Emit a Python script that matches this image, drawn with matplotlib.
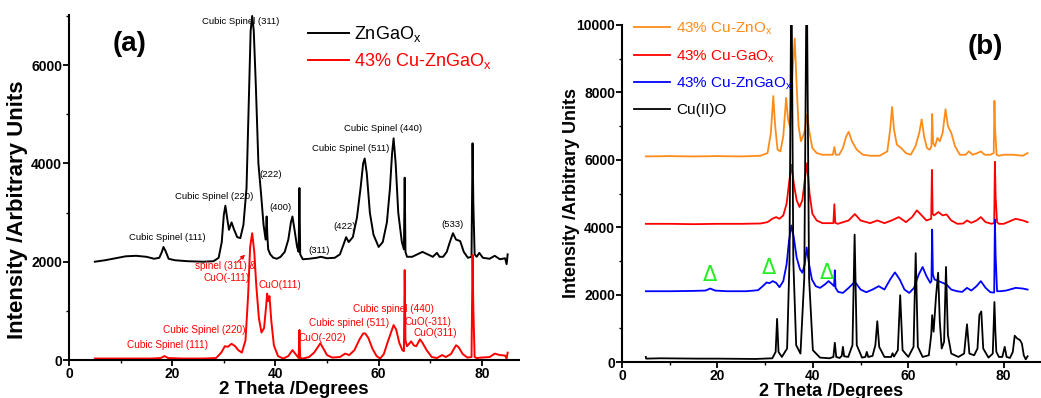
"""
XRD patterns: (a) ZnGaOx vs 43% Cu-ZnGaOx, (b) Cu loaded oxides vs CuO
"""

import matplotlib
matplotlib.use('Agg')
import matplotlib.pyplot as plt
from matplotlib.ticker import MultipleLocator

plt.rcParams['font.family'] = ['Liberation Sans', 'DejaVu Sans']

# ---- panel (a) data ----
znga_x = [5, 7, 9, 11, 13, 15, 16.5, 17.5, 18.0, 18.3, 18.7, 19.3, 20.5, 23, 26, 28, 29.0, 29.6,
          30.0, 30.3, 30.7, 31.0, 31.5, 32.0, 32.6, 33.2, 33.8, 34.4, 34.9, 35.2, 35.5, 35.8, 36.2,
          36.7, 37.2, 37.7, 38.1, 38.3, 38.45, 38.6, 39.0, 39.6, 40.3, 41.0, 41.8, 42.5, 43.0, 43.3,
          43.7, 44.2, 44.5, 44.65, 44.8, 45.3, 46.5, 48.0, 48.8, 50, 51.5, 52.5, 53.2, 53.7, 54.2,
          55.0, 55.8, 56.5, 57.0, 57.3, 57.7, 58.3, 59.0, 60.0, 60.8, 61.6, 62.2, 62.6, 62.9, 63.3,
          63.8, 64.5, 64.9, 65.05, 65.2, 65.5, 66.5, 67.5, 68.5, 69.5, 70.5, 71.3, 71.8, 72.5, 73.2,
          73.8, 74.4, 75.0, 75.8, 76.5, 77.3, 78.0, 78.2, 78.35, 78.6, 79.0, 79.5, 80.2, 81.5, 82.5,
          83.5, 84.5, 84.8, 85.0]
znga_y = [2000, 2030, 2070, 2110, 2120, 2100, 2060, 2080, 2200, 2300, 2220, 2060, 2030, 2010, 2000,
          2010, 2080, 2400, 2950, 3140, 2850, 2650, 2800, 2650, 2500, 2480, 2750, 3500, 5500, 6700,
          7000, 6700, 5600, 4000, 3400, 2750, 2450, 2920, 2500, 2250, 2150, 2080, 2060, 2100, 2200,
          2450, 2800, 2920, 2650, 2300, 2200, 3500, 2150, 2050, 2060, 2080, 2100, 2070, 2080, 2150,
          2350, 2500, 2400, 2500, 2900, 3500, 4000, 4100, 3800, 3000, 2550, 2300, 2400, 2800, 3500,
          4200, 4510, 4000, 3000, 2400, 2250, 3710, 2200, 2100, 2100, 2150, 2200, 2150, 2100, 2180,
          2100, 2100, 2200, 2400, 2580, 2450, 2420, 2200, 2080, 2100, 4410, 3200, 2150, 2100, 2180,
          2080, 2060, 2120, 2050, 2070, 1950, 2150]

cuznga_x = [5, 8, 12, 16, 17.8, 18.5, 19.2, 22, 26, 28.5, 29.5, 30.2, 30.8, 31.5, 32.2, 32.8, 33.5,
            34.2, 34.7, 35.1, 35.5, 35.9, 36.3, 36.8, 37.3, 37.8, 38.2, 38.4, 38.6, 38.85, 39.2, 39.7,
            40.5, 41.5, 42.5, 43.3, 43.9, 44.5, 44.65, 44.8, 45.3, 46.5, 47.5, 48.2, 48.7, 49.2, 50.0,
            51.0, 52.5, 53.5, 54.3, 55.3, 56.3, 57.0, 57.4, 58.0, 58.8, 59.6, 60.3, 61.0, 61.8, 62.4,
            62.9, 63.4, 64.0, 64.6, 64.9, 65.05, 65.2, 65.5, 66.0, 66.3, 66.8, 67.3, 68.0, 68.5, 69.3,
            70.3, 71.3, 72.3, 73.0, 74.0, 75.0, 75.5, 76.3, 77.2, 78.0, 78.2, 78.35, 78.6, 79.0, 80,
            81.5, 82.5, 83.5, 84.5, 84.8, 85]
cuznga_y = [30, 30, 30, 30, 40, 80, 40, 30, 30, 40, 150, 280, 270, 330, 280, 200, 150, 400, 1300,
            2300, 2580, 2200, 1500, 850, 560, 650, 1100, 1350, 1200, 1300, 800, 300, 80, 30, 80, 200,
            120, 40, 610, 40, 30, 60, 150, 260, 340, 250, 100, 50, 60, 130, 100, 200, 420, 540, 540,
            450, 230, 80, 30, 120, 380, 560, 710, 620, 350, 200, 180, 1830, 400, 280, 340, 380, 300,
            280, 420, 350, 200, 60, 40, 100, 60, 120, 300, 260, 120, 50, 60, 2140, 1050, 60, 40, 50,
            60, 130, 100, 90, 30, 150]

# ---- panel (b) data ----
cuzn_x = [5, 10, 15, 20, 25, 29, 30.5, 31.2, 31.7, 32.1, 32.6, 33.2, 33.8, 34.4, 34.8, 35.2, 35.7,
          36.2, 36.6, 37.0, 37.5, 38.2, 38.8, 39.3, 39.9, 40.8, 42, 44.2, 44.5, 44.8, 45.5, 46.3,
          47.0, 47.5, 48.2, 49.2, 50.5, 52, 54, 55.6, 56.2, 56.6, 57.0, 57.6, 58.5, 59.5, 60.5, 61.5,
          62.3, 62.8, 63.3, 63.9, 64.5, 64.85, 65.0, 65.2, 65.6, 66.1, 66.6, 67.2, 67.8, 68.3, 69.0,
          69.8, 70.8, 72, 72.7, 73.5, 74.5, 75.2, 76.0, 77.2, 77.9, 78.05, 78.2, 78.5, 79, 80, 82,
          84, 85]
cuzn_y = [6100, 6110, 6100, 6110, 6100, 6120, 6200, 6800, 7890, 7000, 6300, 6250, 6700, 7840, 7200,
          6980, 8500, 9600, 8200, 7000, 6550, 6800, 7350, 6800, 6350, 6200, 6150, 6150, 6380, 6150,
          6150, 6350, 6700, 6830, 6550, 6300, 6150, 6120, 6120, 6250, 6900, 7570, 6900, 6450, 6350,
          6200, 6150, 6400, 6800, 7200, 6700, 6350, 6300, 6400, 7360, 6500, 6400, 6650, 6550, 6800,
          7500, 7000, 6800, 6400, 6150, 6150, 6250, 6150, 6200, 6250, 6150, 6150, 6200, 7750, 6900,
          6150, 6120, 6150, 6150, 6120, 6200]

cuga_x = [5, 10, 15, 20, 25, 29, 30.5, 31.5, 32.3, 33.0, 33.8, 34.5, 35.0, 35.5, 36.0, 36.6, 37.2,
          37.8, 38.3, 38.8, 39.3, 39.9, 40.8, 42, 44.3, 44.5, 44.7, 45.2, 47.5, 48.8, 50, 52, 53.5,
          55, 56.5, 58.0, 59.5, 60.8, 61.8, 62.8, 63.8, 64.8, 64.95, 65.1, 65.4, 66.3, 67.2, 68.0,
          69.0, 70.3, 71.5, 72.3, 73.2, 74.3, 75.2, 76.2, 77.5, 78.0, 78.15, 78.3, 78.6, 79, 80,
          82.5, 84, 85]
cuga_y = [4100, 4100, 4090, 4100, 4100, 4110, 4150, 4250, 4300, 4250, 4350, 4700, 5300, 5850, 5300,
          4800, 4600, 4800, 5400, 5900, 5000, 4400, 4200, 4120, 4120, 4680, 4130, 4100, 4200, 4390,
          4200, 4120, 4200, 4120, 4200, 4300, 4150, 4300, 4500, 4350, 4200, 4250, 5700, 4400, 4350,
          4450, 4350, 4380, 4200, 4100, 4110, 4200, 4130, 4200, 4300, 4150, 4100, 4130, 5940, 4900,
          4150, 4100, 4100, 4250, 4200, 4150]

cuzg_x = [5, 10, 15, 17.5, 18.5, 19.5, 22, 26, 28.5, 29.5, 30.3, 30.9, 31.6, 32.3, 33.0, 33.8, 34.5,
          35.0, 35.5, 36.0, 36.6, 37.3, 37.8, 38.3, 38.7, 39.2, 39.8, 40.6, 41.5, 42.5, 43.3, 44.1,
          44.45, 44.6, 44.75, 45.3, 46.3, 47.5, 48.8, 50.0, 51.2, 52.5, 53.8, 55.0, 56.2, 57.2, 58.2,
          59.2, 60.2, 61.2, 62.2, 63.0, 63.8, 64.6, 64.85, 65.0, 65.15, 65.5, 66.3, 67.2, 68.0, 69.0,
          70.2, 71.3, 72.3, 73.2, 74.3, 75.2, 76.2, 77.2, 78.0, 78.15, 78.3, 78.6, 79.2, 80.5, 82.5,
          84, 85]
cuzg_y = [2100, 2100, 2110, 2120, 2180, 2120, 2100, 2100, 2130, 2250, 2360, 2340, 2400, 2350, 2220,
          2400, 2900, 3600, 4050, 3700, 3100, 2750, 2650, 2900, 3400, 2900, 2450, 2250, 2200, 2300,
          2400, 2300, 2250, 2720, 2200, 2080, 2050, 2200, 2380, 2150, 2070, 2150, 2250, 2150, 2450,
          2660, 2450, 2150, 2050, 2200, 2600, 2820, 2550, 2350, 2400, 3930, 2600, 2450, 2400, 2350,
          2300, 2150, 2100, 2080, 2200, 2120, 2250, 2400, 2200, 2070, 2060, 4230, 3150, 2100, 2100,
          2120, 2200, 2180, 2150]

cuo_x = [5, 5.05, 8, 12, 16, 20, 24, 28, 31.5, 32.2, 32.5, 32.8, 33.5, 34.6, 35.1, 35.5, 35.9, 36.5,
         37.4, 38.2, 38.7, 39.2, 40.0, 41.5, 43.5, 44.3, 44.6, 44.9, 45.6, 46.05, 46.3, 46.55, 47.4,
         48.3, 48.75, 49.2, 50.3, 51.0, 51.3, 51.6, 52.5, 53.1, 53.5, 53.9, 55.0, 56.4, 56.7, 57.0,
         57.8, 58.3, 58.8, 60.0, 61.1, 61.55, 62.0, 63.0, 64.3, 64.8, 65.0, 65.3, 65.8, 66.25, 66.6,
         67.0, 67.5, 67.9, 68.3, 69.0, 70.5, 71.7, 72.3, 72.8, 73.8, 74.5, 74.9, 75.3, 75.7, 76.8,
         77.7, 78.05, 78.25, 78.45, 79.0, 79.7, 80.2, 80.6, 81.3, 81.9, 82.3, 82.8, 83.4, 83.8, 84.2,
         84.6, 85.0]
cuo_y = [150, 100, 110, 105, 100, 100, 95, 90, 110, 300, 1280, 300, 150, 400, 3000, 12000, 3000, 500,
         250, 2500, 12000, 2500, 350, 130, 110, 150, 570, 150, 120, 180, 450, 170, 150, 500, 3780, 500,
         130, 150, 300, 150, 180, 500, 1210, 450, 150, 150, 260, 160, 350, 1980, 350, 150, 450, 3230,
         450, 150, 200, 800, 1390, 900, 1930, 2650, 1200, 400, 600, 2820, 800, 250, 150, 250, 1120,
         250, 200, 400, 1400, 1500, 400, 130, 250, 1780, 900, 300, 150, 150, 450, 150, 120, 300, 780,
         700, 650, 550, 200, 80, 170]

# peak labels, panel (a)
labels_a_black = ['Cubic Spinel (311)', '(222)', 'Cubic Spinel (220)', '(400)', 'Cubic Spinel (111)',
                  '(311)', '(422)', 'Cubic Spinel (511)', 'Cubic Spinel (440)', '(533)']
labels_a_black_x = [33.3, 39.0, 28.1, 40.9, 19.0, 48.4, 53.5, 54.5, 60.9, 74.4]
labels_a_black_y = [6878, 3765, 3317, 3093, 2483, 2238, 2707, 4294, 4701, 2747]

labels_a_red = ['spinel (311) &', 'CuO(-111)', 'CuO(111)', 'Cubic Spinel (220)', 'Cubic Spinel (111)',
                'CuO(-202)', 'Cubic spinel (511)', 'Cubic spinel (440)', 'CuO(-311)', 'CuO(311)']
labels_a_red_x = [30.4, 30.6, 40.9, 26.2, 19.0, 49.0, 54.3, 62.8, 69.6, 70.9]
labels_a_red_y = [1913, 1669, 1526, 611, 305, 448, 753, 1038, 773, 549]

# Δ markers, panel (b)
delta_x = [18.5, 30.7, 43.0]
delta_y = [2575, 2783, 2634]

W, H = 1041, 398
fig = plt.figure(figsize=(W / 100, H / 100), dpi=100)

ax1 = fig.add_axes([69 / W, (H - 360) / H, 450 / W, 345 / H])
ax2 = fig.add_axes([622 / W, (H - 362) / H, 418 / W, 337 / H])


def styleAxes(ax, xmax, ymax, ylabsize, xlabsize, ylabpos):
    ax.set_xlim(0, xmax)
    ax.set_ylim(0, ymax)
    for s in ['top', 'right']:
        ax.spines[s].set_visible(False)
    for s in ['left', 'bottom']:
        ax.spines[s].set_linewidth(1.5)
    ax.xaxis.set_major_locator(MultipleLocator(20))
    ax.xaxis.set_minor_locator(MultipleLocator(10))
    ax.yaxis.set_major_locator(MultipleLocator(2000))
    ax.yaxis.set_minor_locator(MultipleLocator(1000))
    ax.tick_params(which='major', direction='out', length=4, width=1.3, labelsize=10, pad=1)
    ax.tick_params(which='minor', direction='out', length=2.5, width=1.0)
    for t in ax.get_xticklabels() + ax.get_yticklabels():
        t.set_fontweight('bold')
    ax.set_xlabel('2 Theta /Degrees', fontsize=xlabsize, fontweight='bold', labelpad=0)
    ax.set_ylabel('Intensity /Arbitrary Units', fontsize=ylabsize, fontweight='bold')
    ax.yaxis.set_label_coords(*ylabpos)


# panel (a)
ax1.plot(znga_x, znga_y, color='black', lw=1.4, label=r'ZnGaO$\mathregular{_x}$')
ax1.plot(cuznga_x, cuznga_y, color='red', lw=1.4, label=r'43% Cu-ZnGaO$\mathregular{_x}$')
styleAxes(ax1, 87.2, 7020, 16, 13.5, (-0.09, 0.435))
ax1.legend(loc='upper left', bbox_to_anchor=(0.51, 1.0), frameon=False, fontsize=13,
           handlelength=2.3, handletextpad=0.3, labelspacing=0.4, borderpad=0,
           labelcolor='linecolor')
ax1.text(0.135, 0.915, '(a)', transform=ax1.transAxes, fontsize=20, fontweight='bold',
         ha='center', va='center')
for s, x, y in zip(labels_a_black, labels_a_black_x, labels_a_black_y):
    ax1.text(x, y, s, fontsize=6.8, color='black', ha='center', va='center')
for s, x, y in zip(labels_a_red, labels_a_red_x, labels_a_red_y):
    ax1.text(x, y, s, fontsize=7.2, color='red', ha='center', va='center')
ax1.annotate('', xy=(34.5, 2180), xytext=(32.2, 1950),
             arrowprops=dict(arrowstyle='-|>', color='red', lw=0.8, mutation_scale=6))

# panel (b)
ax2.plot(cuzn_x, cuzn_y, color='#ff8c1a', lw=1.3, label=r'43% Cu-ZnO$\mathregular{_x}$')
ax2.plot(cuga_x, cuga_y, color='red', lw=1.3, label=r'43% Cu-GaO$\mathregular{_x}$')
ax2.plot(cuzg_x, cuzg_y, color='blue', lw=1.3, label=r'43% Cu-ZnGaO$\mathregular{_x}$')
ax2.plot(cuo_x, cuo_y, color='black', lw=1.3, label='Cu(II)O')
styleAxes(ax2, 87.6, 10000, 13, 13, (-0.10, 0.5))
ax2.legend(loc='upper left', bbox_to_anchor=(0.01, 1.035), frameon=False, fontsize=11,
           handlelength=2.4, handletextpad=0.35, labelspacing=0.72, borderpad=0,
           labelcolor='linecolor')
ax2.text(0.87, 0.935, '(b)', transform=ax2.transAxes, fontsize=20, fontweight='bold',
         ha='center', va='center')
for x, y in zip(delta_x, delta_y):
    ax2.text(x, y, '\u0394', fontsize=15, color='#22ee22', ha='center', va='center',
             family='DejaVu Sans')

fig.savefig('out.png', dpi=100)
